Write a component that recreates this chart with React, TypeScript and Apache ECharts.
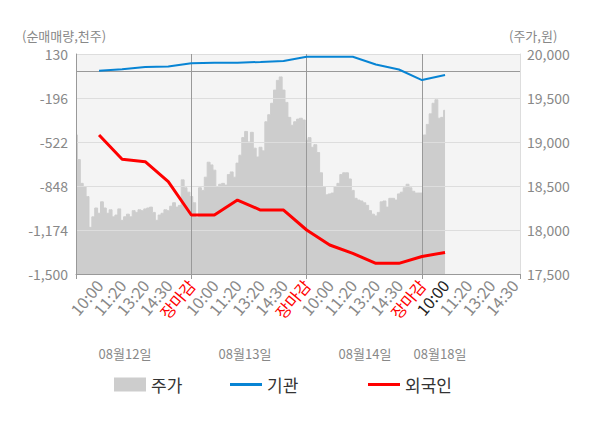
import React, { useEffect, useRef } from 'react';
import * as echarts from 'echarts';

const FONT = '"Noto Sans CJK KR", "Noto Sans", sans-serif';

// ---- data ----
const dateLabels = ['08월12일', '08월13일', '08월14일', '08월18일'];
const timeLabels = ['10:00', '11:20', '13:20', '14:30', '장마감'];
const latestLabel = '08월18일 10:00';

// price (won), sampled along the intraday category slots
const priceDay1 = [
  19080, 18800, 18530, 18490, 18380, 18030, 18150, 18250, 18190, 18320,
  18250, 18190, 18230, 18150, 18170, 18240, 18110, 18150, 18180, 18150,
  18220, 18200, 18230, 18220, 18240, 18250, 18260, 18200, 18110, 18170,
  18190, 18230, 18220, 18270, 18310, 18260, 18280, 18570, 18480, 18430,
];
const priceDay2 = [
  18380, 18310, 18140, 18480, 18450, 18600, 18770, 18740, 18680, 18490,
  18520, 18530, 18510, 18630, 18660, 18600, 18760, 18850, 19050, 19120,
  19000, 19110, 18930, 18830, 18940, 18900, 19230, 19310, 19440, 19590,
  19700, 19740, 19590, 19450, 19280, 19190, 19230, 19260, 19270, 19250,
];
const priceDay3 = [
  19020, 19050, 18940, 18970, 18880, 18650, 18490, 18400, 18410, 18420,
  18490, 18530, 18630, 18650, 18650, 18580, 18450, 18360, 18340, 18330,
  18310, 18280, 18220, 18180, 18160, 18200, 18320, 18330, 18260, 18360,
  18360, 18340, 18410, 18430, 18480, 18520, 18480, 18440, 18420, 18420,
];
const priceDay4 = [18420, 19080, 19200, 19320, 19440, 19480, 19270, 19280, 19360];

// cumulative net buying (thousand shares), one value per labelled time
const institutionNet = [6, 17, 34, 37, 61, 66, 66, 71, 78, 110, 110, 110, 52, 15, -63, -26];
const foreignNet = [-470, -650, -668, -816, -1063, -1063, -952, -1026, -1026, -1174, -1285, -1347, -1421, -1421, -1370, -1340];

const leftTicks = [-1500, -1174, -848, -522, -196, 130];
const priceTicks = [17500, 18000, 18500, 19000, 19500, 20000];

// ---- structure ----
const SLOTS_PER_DAY = 40;
const SLOTS_PER_LABEL = 8;
const TOTAL_SLOTS = 155;

const categories: string[] = [];
for (let i = 0; i < TOTAL_SLOTS; i++) {
  const day = Math.floor(i / SLOTS_PER_DAY);
  const j = i % SLOTS_PER_DAY;
  if (j === 0 && i > 0) categories.push(`${dateLabels[day - 1]} ${timeLabels[4]}`);
  else if (j % SLOTS_PER_LABEL === 0 && j > 0)
    categories.push(`${dateLabels[day]} ${timeLabels[j / SLOTS_PER_LABEL - 1]}`);
  else categories.push(`${dateLabels[day]} #${j}`);
}

const priceData = [...priceDay1, ...priceDay2, ...priceDay3, ...priceDay4];

const LEFT_MIN = leftTicks[0];
const LEFT_STEP = leftTicks[1] - leftTicks[0];
const LEFT_MAX = leftTicks[leftTicks.length - 1];

function placeAtLabels(values: number[]) {
  const arr: (number | null)[] = new Array(TOTAL_SLOTS).fill(null);
  values.forEach((v, k) => {
    arr[(k + 1) * SLOTS_PER_LABEL] = v - LEFT_MIN;
  });
  return arr;
}

const isLabelIdx = (i: number) => i > 0 && i % SLOTS_PER_LABEL === 0;
const isDayIdx = (i: number) => i > 0 && i % SLOTS_PER_DAY === 0;

export default function App() {
  const ref = useRef<HTMLDivElement>(null);

  useEffect(() => {
    if (!ref.current) return;
    const chart = echarts.init(ref.current, undefined, { renderer: 'svg' });
    const gray = '#888888';
    const option: any = {
      animation: false,
      textStyle: { fontFamily: FONT },
      grid: {
        left: 76,
        right: 80,
        top: 54,
        bottom: 154,
        show: true,
        backgroundColor: '#f4f4f4',
        borderWidth: 0,
      },
      legend: [
        {
          data: ['주가'], left: 114, top: 376, padding: 0, icon: 'rect',
          itemWidth: 32, itemHeight: 14,
          textStyle: { fontSize: 17, color: '#333', fontFamily: FONT },
        },
        {
          data: ['기관'], left: 230, top: 376, padding: 0, icon: 'rect',
          itemWidth: 32, itemHeight: 3,
          textStyle: { fontSize: 17, color: '#333', fontFamily: FONT },
        },
        {
          data: ['외국인'], left: 368, top: 376, padding: 0, icon: 'rect',
          itemWidth: 32, itemHeight: 3,
          textStyle: { fontSize: 17, color: '#333', fontFamily: FONT },
        },
      ],
      xAxis: {
        type: 'category',
        data: categories,
        boundaryGap: false,
        z: 3,
        axisLine: { lineStyle: { color: '#999' } },
        axisTick: {
          show: true,
          length: 5,
          interval: (i: number) => isDayIdx(i) || i === 0 || i === TOTAL_SLOTS - 1,
          lineStyle: { color: '#999' },
        },
        axisLabel: {
          interval: (i: number) => isLabelIdx(i),
          rotate: 50,
          margin: 8,
          fontSize: 16,
          fontFamily: FONT,
          formatter: (v: string) => v.split(' ')[1],
          color: (v: string) =>
            v.endsWith(timeLabels[4]) ? '#ff0000' : v === latestLabel ? '#222222' : gray,
        },
        splitLine: {
          show: true,
          interval: (i: number) => isDayIdx(i),
          lineStyle: { color: '#999', width: 1 },
        },
      },
      yAxis: [
        {
          type: 'value',
          position: 'left',
          min: 0,
          max: LEFT_MAX - LEFT_MIN,
          interval: LEFT_STEP,
          z: 3,
          axisLine: { show: true, lineStyle: { color: '#999' } },
          axisTick: { show: false },
          axisLabel: {
            color: gray,
            fontSize: 14,
            margin: 8,
            fontFamily: FONT,
            formatter: (v: number) => Math.round(v + LEFT_MIN).toLocaleString('en-US'),
          },
          splitLine: { show: true, lineStyle: { color: '#dddddd' } },
        },
        {
          type: 'value',
          position: 'right',
          min: priceTicks[0],
          max: priceTicks[priceTicks.length - 1],
          interval: priceTicks[1] - priceTicks[0],
          z: 3,
          axisLine: { show: true, lineStyle: { color: '#dddddd' } },
          axisTick: { show: false },
          axisLabel: {
            color: gray,
            fontSize: 14,
            margin: 7,
            fontFamily: FONT,
            formatter: (v: number) => v.toLocaleString('en-US'),
          },
          splitLine: { show: false },
        },
      ],
      series: [
        {
          name: '주가',
          type: 'line',
          yAxisIndex: 1,
          data: priceData,
          symbol: 'none',
          step: 'middle',
          z: 1,
          itemStyle: { color: '#cdcdcd' },
          lineStyle: { color: '#cdcdcd', width: 1 },
          areaStyle: { color: '#cdcdcd', opacity: 1, origin: 'start' },
        },
        {
          name: '기관',
          type: 'line',
          yAxisIndex: 0,
          data: placeAtLabels(institutionNet),
          connectNulls: true,
          symbol: 'none',
          z: 5,
          itemStyle: { color: '#0784d4' },
          lineStyle: { color: '#0784d4', width: 2 },
          markLine: {
            silent: true,
            symbol: ['none', 'none'],
            label: { show: false },
            lineStyle: { color: '#999', width: 1, type: 'solid' },
            data: [{ yAxis: 0 - LEFT_MIN }],
          },
        },
        {
          name: '외국인',
          type: 'line',
          yAxisIndex: 0,
          data: placeAtLabels(foreignNet),
          connectNulls: true,
          symbol: 'none',
          z: 6,
          itemStyle: { color: '#ff0000' },
          lineStyle: { color: '#ff0000', width: 3 },
        },
      ],
      graphic: [
        {
          type: 'text', x: 22, y: 35,
          style: { text: '(순매매량,천주)', fill: gray, fontSize: 13, fontFamily: FONT, align: 'left', verticalAlign: 'middle' },
        },
        {
          type: 'text', x: 509, y: 35,
          style: { text: '(주가,원)', fill: gray, fontSize: 13, fontFamily: FONT, align: 'left', verticalAlign: 'middle' },
        },
        ...[125, 245, 365, 440].map((cx, k) => ({
          type: 'text', x: cx, y: 353,
          style: { text: dateLabels[k], fill: gray, fontSize: 13, fontFamily: FONT, align: 'center', verticalAlign: 'middle' },
        })),
      ],
    };
    chart.setOption(option);
    return () => chart.dispose();
  }, []);

  return (
    <div
      ref={ref}
      style={{ position: 'absolute', left: 0, top: 0, width: 600, height: 428 }}
    />
  );
}
